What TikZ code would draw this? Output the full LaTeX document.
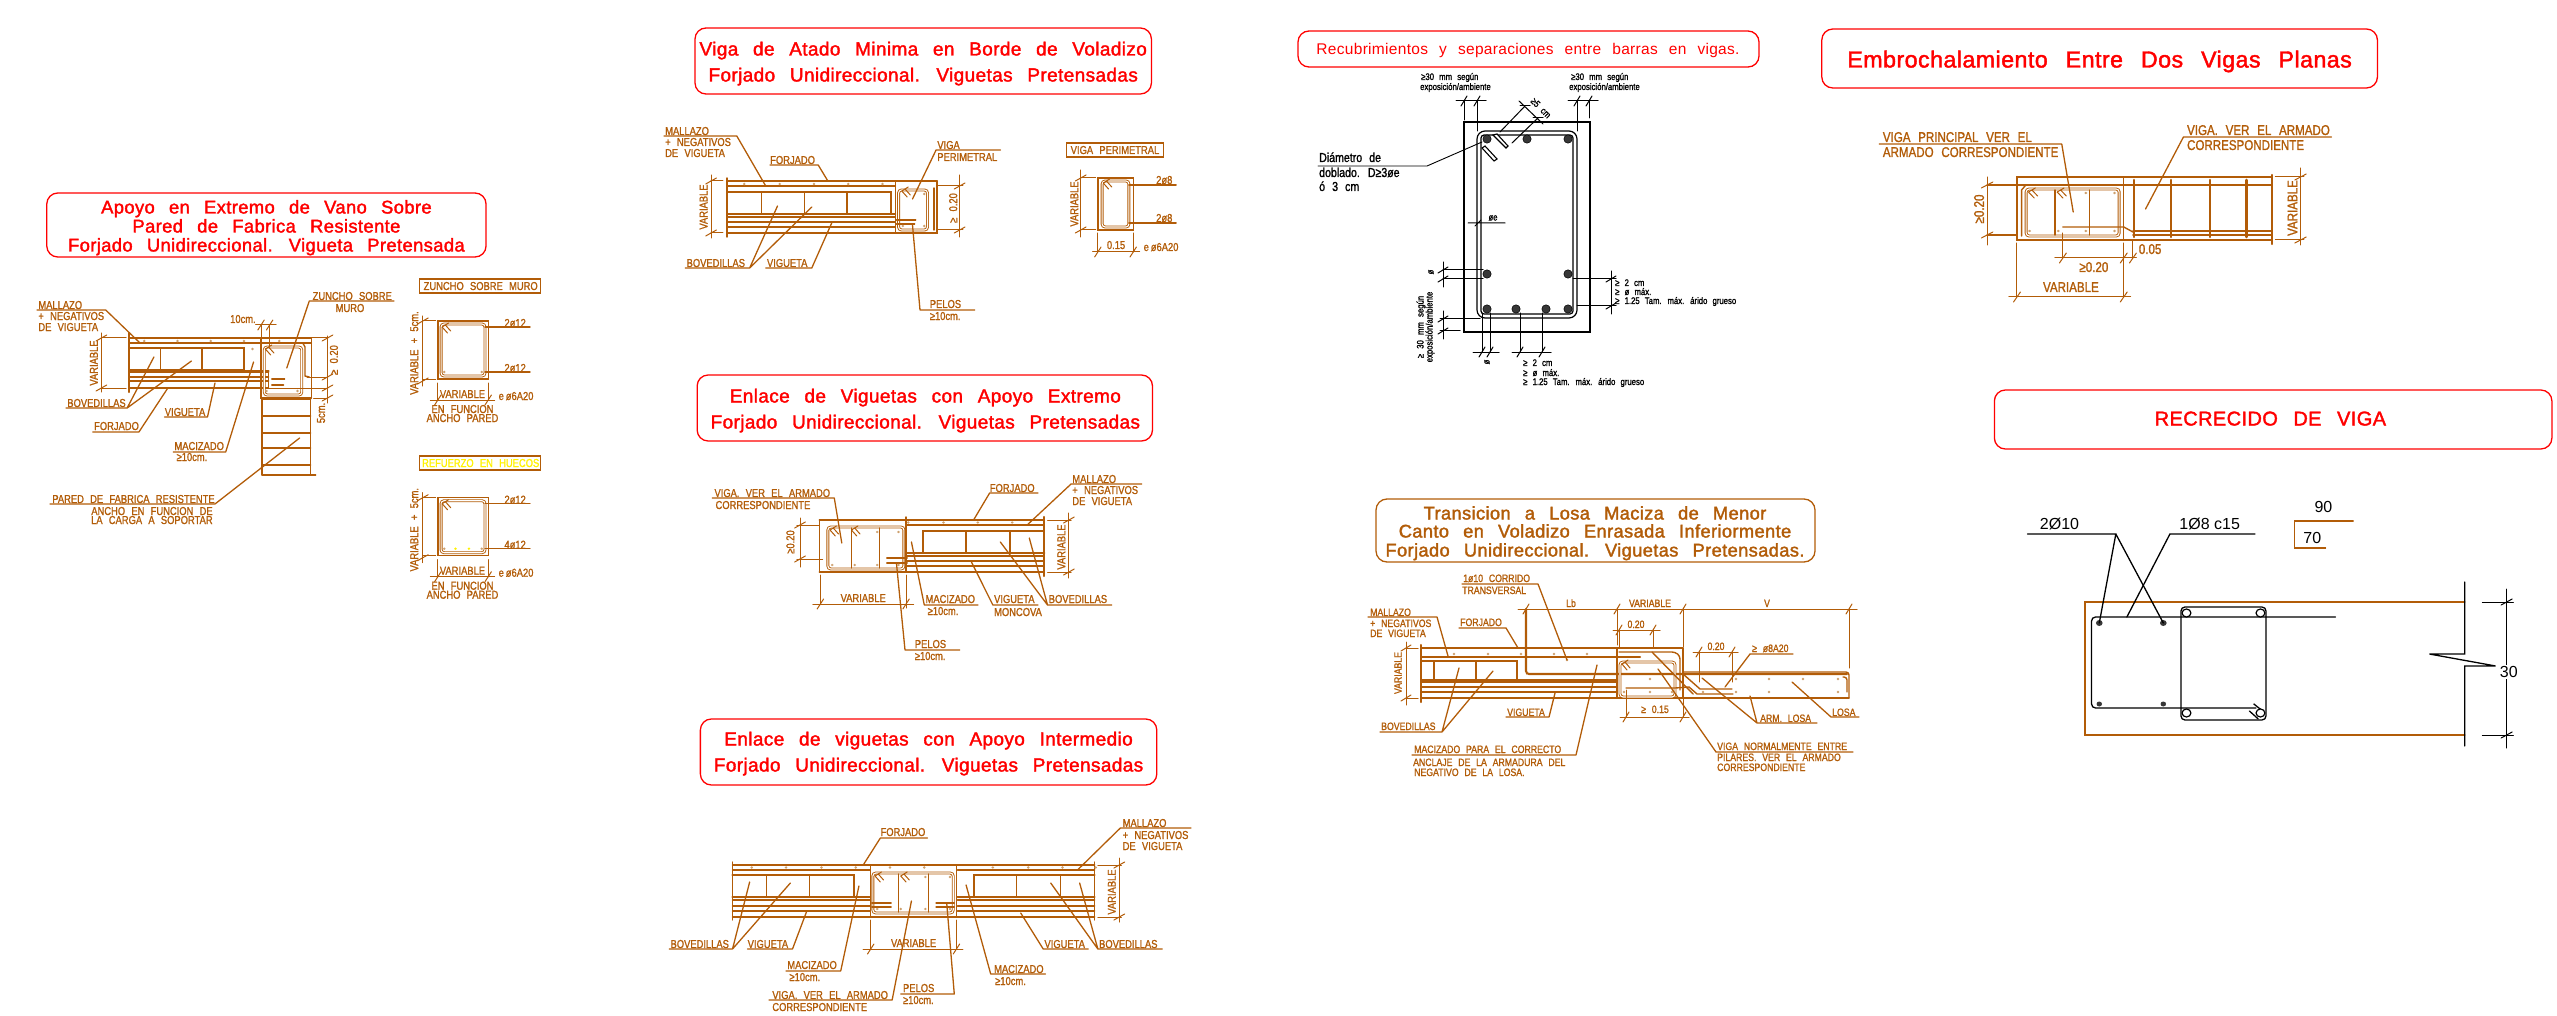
\documentclass[tikz,border=0pt]{standalone}
\usepackage{fontspec}
\setmainfont{Liberation Sans}
\newfontfamily\cadfont[FakeStretch=0.815,WordSpace=2.4,FakeBold=1.3]{Liberation Sans}
\newfontfamily\headfont[LetterSpace=2,WordSpace=2.6,FakeBold=1.8]{Liberation Sans}
\newfontfamily\thinfont[LetterSpace=2,WordSpace=2.4]{Liberation Sans}
\definecolor{cadorange}{RGB}{178,92,8}
\definecolor{bardot}{RGB}{205,160,110}
\definecolor{bardark}{RGB}{55,55,55}
\newcommand\cadsize{11.5}
\newcommand\titlesize{19}
\begin{document}
\begin{tikzpicture}[x=1pt, y=-1pt, color=cadorange, line cap=round]

\useasboundingbox (0, 0) rectangle (2557, 1016) ;

\tikzstyle{title box} = [draw=red, line width=1.3pt, rounded corners=11pt]
\tikzstyle{title text} = [font=\fontsize{\titlesize}{20}\selectfont\headfont, text=red, inner sep=0pt, anchor=base, yshift=-6.5pt]
\tikzstyle{rc line} = [line width=1.4pt]
\tikzstyle{rc heavy} = [line width=2.1pt]
\tikzstyle{dim line} = [line width=1pt]
\tikzstyle{leader line} = [line width=1.3pt, line join=round]
\tikzstyle{stirrup line} = [line width=.9pt, double=white, double distance=1.1pt, rounded corners=3pt]
\tikzstyle{cad label} = [font=\fontsize{\cadsize}{12}\selectfont\cadfont, inner sep=0pt, anchor=base west, yshift=-4pt]
\tikzstyle{cad mid} = [font=\fontsize{\cadsize}{12}\selectfont\cadfont, inner sep=0pt, anchor=base, yshift=-4pt]
\tikzstyle{cad rot} = [font=\fontsize{\cadsize}{12}\selectfont\cadfont, inner sep=0pt, rotate=90]
\tikzstyle{small label} = [font=\fontsize{9.5}{10}\selectfont\cadfont, inner sep=0pt, anchor=base west, yshift=-3pt]
\tikzstyle{small rot} = [font=\fontsize{9.5}{10}\selectfont\cadfont, inner sep=0pt, rotate=90]

\newcommand\hdim[4]{
	\draw [dim line] (#2, #1) -- (#3, #1) ;
	\foreach \xtick in {#4}
		\draw [dim line] (\xtick - 3, #1 + 5) -- (\xtick + 3, #1 - 5) ;
}
\newcommand\vdim[4]{
	\draw [dim line] (#1, #2) -- (#1, #3) ;
	\foreach \ytick in {#4}
		\draw [dim line] (#1 - 5, \ytick + 3) -- (#1 + 5, \ytick - 3) ;
}
\newcommand\slablines[3]{
	\foreach \yline in {#3}
		\draw [rc line] (#1, \yline) -- (#2, \yline) ;
}
\newcommand\bardots[2]{
	\foreach \xbar in {#1}
		\fill [bardot] (\xbar, #2) circle (1.3) ;
}
\newcommand\barhook[2]{
	\draw [dim line] (#1, #2) -- ++(5, 6) (#1 + 3, #2 - 2) -- ++(5, 6) (#1, #2) -- ++(6, -4) ;
}

% apoyo en extremo de vano

\begin{scope}[x=1.0714pt, xshift=-1.43pt]
\renewcommand\titlesize{18.4}

\draw [title box] (45, 193) rectangle (455, 257) ;
\node [title text] (apoyotitleone) at (250, 207) {Apoyo en Extremo de Vano Sobre} ;
\node [title text] (apoyotitletwo) at (250, 226) {Pared de Fabrica Resistente} ;
\node [title text] (apoyotitlethree) at (250, 245) {Forjado Unidireccional. Vigueta Pretensada} ;

\slablines{122}{292}{338, 343}
\slablines{122}{252}{372, 377, 381, 388}
\draw [rc heavy] (122, 333) -- (122, 392) ;
\draw [rc line] (122, 348) -- (229, 348) -- (229, 370) -- (122, 370) ;
\draw [rc heavy] (122, 371) -- (252, 371) ;
\draw [rc line] (151, 348) -- (151, 370) (190, 348) -- (190, 370) ;
\draw [rc line] (245, 338) -- (245, 398) -- (292, 398) (292, 338) -- (292, 398) ;
\draw [stirrup line] (248, 347) rectangle (283, 395) ;
\draw [rc line] (252, 371) -- (252, 388) (255, 379) -- (267, 379) (255, 385) -- (266, 385) ;
\draw [rc line] (270, 343) -- (284, 343) -- (286, 347) -- (286, 376) -- (290, 377) ;
\barhook{249}{349}
\bardots{136, 167, 198, 229, 262}{341}
\bardots{237}{349}
\bardots{250, 279}{391}

\draw [rc line] (246, 398) -- (246, 475) (291, 398) -- (291, 475) ;
\foreach \ywall in {399, 416, 433, 448, 465}
	\draw [rc heavy] (246, \ywall) -- (291, \ywall) ;
\draw [rc line] (246, 475) -- (296, 475) ;

\vdim{96}{333}{392}{338, 388}
\draw [dim line] (96, 338) -- (119, 338) (96, 388) -- (119, 388) ;
\node [cad rot] (apoyovariable) at (89, 363) {VARIABLE} ;
\vdim{307}{336}{403}{338, 377, 388, 398}
\draw [dim line] (292, 338) -- (307, 338) (288, 377) -- (307, 377) (252, 388) -- (307, 388) (294, 398) -- (307, 398) ;
\node [cad rot] (apoyocanto) at (313, 360) {≥ 0.20} ;
\node [cad rot] (apoyocinco) at (301, 413) {5cm.} ;
\hdim{325}{240}{259}{245, 253}
\draw [dim line] (245, 325) -- (245, 338) (253, 325) -- (253, 347) ;
\node [cad label] (apoyodiez) at (216, 319) {10cm.} ;

\draw [leader line] (36, 310) -- (100, 310) -- (132, 343) ;
\node [cad label] (apoyomallazo) at (37, 305) {MALLAZO} ;
\node [cad label] (apoyonegativos) at (37, 316) {+ NEGATIVOS} ;
\node [cad label] (apoyovigueta) at (37, 327) {DE VIGUETA} ;
\draw [leader line] (63, 408) -- (120, 408) -- (145, 357) (120, 408) -- (180, 361) ;
\node [cad label] (apoyobovedillas) at (64, 403) {BOVEDILLAS} ;
\draw [leader line] (88, 432) -- (131, 432) -- (158, 388) ;
\node [cad label] (apoyoforjado) at (89, 426) {FORJADO} ;
\draw [leader line] (155, 417) -- (195, 417) -- (202, 383) ;
\node [cad label] (apoyoviguetalabel) at (155, 412) {VIGUETA} ;
\draw [leader line] (163, 452) -- (212, 452) -- (238, 362) ;
\node [cad label] (apoyomacizado) at (164, 446) {MACIZADO} ;
\node [cad label] (apoyomindiez) at (166, 457) {≥10cm.} ;
\draw [leader line] (48, 504) -- (202, 504) -- (281, 438) ;
\node [cad label] (apoyopared) at (50, 499) {PARED DE FABRICA RESISTENTE} ;
\node [cad label, anchor=base east] (apoyoancho) at (200, 511) {ANCHO EN FUNCION DE} ;
\node [cad label, anchor=base east] (apoyocarga) at (200, 520) {LA CARGA A SOPORTAR} ;
\draw [leader line] (290, 301) -- (369, 301) (290, 301) -- (269, 368) ;
\node [cad label] (apoyozuncho) at (293, 296) {ZUNCHO SOBRE} ;
\node [cad mid] (apoyomuro) at (328, 308) {MURO} ;

% zuncho details

\newcommand\zunchodetail[4]{
	\begin{scope}[yshift=-#1pt]
	\draw [rc line] (410, 321) rectangle (457, 379) ;
	\draw [stirrup line] (413, 324) rectangle (454, 376) ;
	\barhook{414}{327}
	\draw [rc line] (454, 327) -- (496, 327) (454, 372) -- (496, 372) ;
	\node [cad label] (#2one) at (472, 323) {2ø12} ;
	\node [cad label] (#2two) at (472, 368) {#3} ;
	\vdim{396}{316}{386}{321, 381}
	\draw [dim line] (396, 321) -- (408, 321) (396, 379) -- (408, 379) ;
	\node [cad rot] (#2var) at (388, 353) {VARIABLE + 5cm.} ;
	\hdim{400}{403}{463}{410, 457}
	\draw [dim line] (410, 383) -- (410, 400) (457, 383) -- (457, 400) ;
	\node [cad mid] (#2width) at (433, 394) {VARIABLE} ;
	\node [cad mid] (#2fun) at (433, 409) {EN FUNCION} ;
	\node [cad mid] (#2pared) at (433, 418) {ANCHO PARED} ;
	\node [cad mid] (#2est) at (483, 396) {e\,ø6A20} ;
	#4
	\end{scope}
}

\draw [rc line] (393, 279) rectangle (506, 293) ;
\node [cad mid] (zunchotitle) at (450, 286) {ZUNCHO SOBRE MURO} ;
\zunchodetail{0}{zuncho}{2ø12}{\bardots{416, 451}{372}}

\draw [rc line] (393, 456) rectangle (506, 470) ;
\node [cad mid, text=yellow] (refuerzotitle) at (450, 463) {REFUERZO EN HUECOS} ;
\zunchodetail{176.7}{refuerzo}{4ø12}{
	\bardots{416, 451}{372}
	\fill [yellow] (426.5, 372) circle (1.3) (439, 372) circle (1.3) ;
}
\end{scope}

% viga de atado

\begin{scope}[x=1.0714pt, xshift=-46.4pt]
\draw [title box] (692, 28) rectangle (1118, 94) ;
\node [title text] (atadotitleone) at (905, 49) {Viga de Atado Minima en Borde de Voladizo} ;
\node [title text] (atadotitletwo) at (905, 75) {Forjado Unidireccional. Viguetas Pretensadas} ;

\slablines{722}{918}{181}
\slablines{722}{879}{186, 217, 222, 227, 233}
\draw [rc heavy] (722, 192) -- (875, 192) -- (875, 214) (722, 214) -- (879, 214) ;
\draw [rc line] (722, 178) -- (722, 237) ;
\draw [rc line] (754, 192) -- (754, 214) (794, 192) -- (794, 214) (834, 192) -- (834, 214) ;
\draw [rc line] (879, 181) -- (879, 233) -- (918, 233) -- (918, 181) ;
\draw [stirrup line] (882, 190) rectangle (909, 230) ;
\draw [rc line] (915, 188) -- (915, 230) (880, 220) -- (898, 220) (880, 224) -- (897, 224) ;
\barhook{885}{191}
\bardots{738, 771, 803, 835, 867}{184}
\bardots{886, 906}{226}
\bardots{906}{194}

\vdim{707}{175}{238}{181, 233}
\draw [dim line] (707, 181) -- (718, 181) (707, 233) -- (718, 233) ;
\node [cad rot] (atadovariable) at (700, 207) {VARIABLE} ;
\vdim{939}{175}{237}{186, 230}
\draw [dim line] (918, 186) -- (942, 186) (918, 230) -- (942, 230) ;
\node [cad rot] (atadocanto) at (933, 208) {≥ 0.20} ;

\draw [leader line] (663, 136) -- (731, 136) -- (758, 186) ;
\node [cad label] (atadomallazo) at (664, 131) {MALLAZO} ;
\node [cad label] (atadonegativos) at (664, 142) {+ NEGATIVOS} ;
\node [cad label] (atadovigueta) at (664, 153) {DE VIGUETA} ;
\draw [leader line] (762, 165) -- (807, 165) -- (816, 181) ;
\node [cad label] (atadoforjado) at (762, 160) {FORJADO} ;
\draw [leader line] (977, 150) -- (917, 150) -- (895, 199) ;
\node [cad label] (atadoviga) at (918, 145) {VIGA} ;
\node [cad label] (atadoperimetral) at (918, 157) {PERIMETRAL} ;
\draw [leader line] (683, 268) -- (743, 268) -- (769, 206) (743, 268) -- (801, 207) ;
\node [cad label] (atadobovedillas) at (684, 263) {BOVEDILLAS} ;
\draw [leader line] (758, 268) -- (801, 268) -- (820, 222) ;
\node [cad label] (atadoviguetalabel) at (759, 263) {VIGUETA} ;
\draw [leader line] (953, 310) -- (902, 310) -- (895, 225) ;
\node [cad label] (atadopelos) at (911, 304) {PELOS} ;
\node [cad label] (atadodiez) at (911, 316) {≥10cm.} ;

\draw [rc line] (1039, 143) rectangle (1129, 157) ;
\node [cad mid] (perimetraltitle) at (1084, 150) {VIGA PERIMETRAL} ;
\draw [rc line] (1068, 178) rectangle (1101, 230) ;
\draw [stirrup line] (1072, 181) rectangle (1097, 227) ;
\barhook{1073}{183}
\draw [rc line] (1097, 185) -- (1141, 185) (1097, 223) -- (1141, 223) ;
\node [cad mid] (perimetraltop) at (1130, 180) {2ø8} ;
\node [cad mid] (perimetralbottom) at (1130, 218) {2ø8} ;
\vdim{1052}{170}{237}{178, 230}
\draw [dim line] (1052, 178) -- (1066, 178) (1052, 230) -- (1066, 230) ;
\node [cad rot] (perimetralvariable) at (1046, 204) {VARIABLE} ;
\hdim{252}{1063}{1107}{1068, 1101}
\draw [dim line] (1068, 233) -- (1068, 252) (1101, 233) -- (1101, 252) ;
\node [cad mid] (perimetralwidth) at (1085, 245) {0.15} ;
\node [cad mid] (perimetralest) at (1127, 247) {e\,ø6A20} ;

% enlace con apoyo extremo

\draw [title box] (694, 375) rectangle (1119, 441) ;
\node [title text] (extremotitleone) at (907, 396) {Enlace de Viguetas con Apoyo Extremo} ;
\node [title text] (extremotitletwo) at (907, 422) {Forjado Unidireccional. Viguetas Pretensadas} ;

\slablines{808}{1018}{520, 572}
\slablines{889}{1018}{525, 561, 566}
\draw [rc heavy] (905, 553) -- (905, 531) -- (1017, 531) (889, 553) -- (1018, 553) ;
\draw [rc line] (889, 556) -- (1018, 556) (945, 531) -- (945, 553) (986, 531) -- (986, 553) ;
\draw [rc heavy] (1018, 517) -- (1018, 576) ;
\draw [rc line] (808, 520) -- (808, 572) (889, 517) -- (889, 572) ;
\draw [stirrup line] (816, 527) rectangle (887, 569) ;
\draw [rc line] (838, 528) -- (838, 568) (864, 528) -- (864, 568) ;
\draw [rc line] (871, 558) -- (890, 558) (871, 563) -- (890, 563) ;
\barhook{818}{530}
\barhook{838}{530}
\bardots{820, 841, 862, 882}{565}
\bardots{862, 882}{532}
\bardots{891, 924, 956, 988}{522.5}

\vdim{790}{518}{567}{525, 559}
\draw [dim line] (787, 525) -- (808, 525) (787, 559) -- (811, 559) ;
\node [cad rot] (extremocanto) at (781, 542) {≥0.20} ;
\hdim{604}{802}{896}{809, 889}
\draw [dim line] (809, 575) -- (809, 604) (889, 575) -- (889, 608) ;
\node [cad mid] (extremowidth) at (849, 598) {VARIABLE} ;
\vdim{1041}{513}{578}{520, 572}
\draw [dim line] (1021, 520) -- (1043, 520) (1021, 572) -- (1043, 572) ;
\node [cad rot] (extremovariable) at (1034, 547) {VARIABLE} ;

\draw [leader line] (708, 498) -- (822, 498) -- (829, 543) ;
\node [cad label] (extremoviga) at (710, 493) {VIGA. VER EL ARMADO} ;
\node [cad label] (extremocorr) at (711, 505) {CORRESPONDIENTE} ;
\draw [leader line] (1012, 493) -- (967, 493) -- (952, 520) ;
\node [cad label] (extremoforjado) at (967, 488) {FORJADO} ;
\draw [leader line] (1109, 484) -- (1043, 484) -- (1002, 525) ;
\node [cad label] (extremomallazo) at (1044, 479) {MALLAZO} ;
\node [cad label] (extremonegativos) at (1044, 490) {+ NEGATIVOS} ;
\node [cad label] (extremovigueta) at (1044, 501) {DE VIGUETA} ;
\draw [leader line] (956, 605) -- (906, 605) -- (894, 542) ;
\node [cad label] (extremomacizado) at (907, 599) {MACIZADO} ;
\node [cad label] (extremodiez) at (909, 611) {≥10cm.} ;
\draw [leader line] (1012, 605) -- (970, 605) -- (950, 562) ;
\node [cad label] (extremoviguetalabel) at (971, 599) {VIGUETA} ;
\node [cad label] (extremomoncova) at (971, 612) {MONCOVA} ;
\draw [leader line] (1081, 605) -- (1021, 605) -- (977, 542) (1021, 605) -- (1004, 538) ;
\node [cad label] (extremobovedillas) at (1022, 599) {BOVEDILLAS} ;
\draw [leader line] (939, 650) -- (888, 650) -- (880, 563) ;
\node [cad label] (extremopelos) at (897, 644) {PELOS} ;
\node [cad label] (extremopelosdiez) at (897, 656) {≥10cm.} ;

% enlace con apoyo intermedio

\draw [title box] (697, 719) rectangle (1123, 785) ;
\node [title text] (intermediotitleone) at (910, 739) {Enlace de viguetas con Apoyo Intermedio} ;
\node [title text] (intermediotitletwo) at (910, 765) {Forjado Unidireccional. Viguetas Pretensadas} ;

\slablines{727}{1065}{865, 917}
\slablines{727}{855}{870, 900, 906, 911}
\slablines{937}{1065}{870, 900, 906, 911}
\draw [rc heavy] (727, 875) -- (840, 875) -- (840, 897) (727, 897) -- (855, 897) ;
\draw [rc heavy] (952, 897) -- (952, 875) -- (1065, 875) (937, 897) -- (1065, 897) ;
\draw [rc line] (759, 875) -- (759, 897) (799, 875) -- (799, 897) (992, 875) -- (992, 897) (1033, 875) -- (1033, 897) ;
\draw [rc line] (727, 862) -- (727, 920) (1065, 862) -- (1065, 920) (856, 865) -- (856, 917) (936, 865) -- (936, 917) ;
\draw [stirrup line] (858, 873) rectangle (933, 913) ;
\draw [rc line] (882, 874) -- (882, 912) (910, 874) -- (910, 912) ;
\draw [rc line] (857, 903) -- (875, 903) (857, 907) -- (875, 907) (917, 903) -- (934, 903) (917, 907) -- (934, 907) ;
\barhook{860}{876}
\barhook{884}{876}
\bardots{862, 884, 907, 930}{909}
\bardots{907, 930}{877}
\bardots{745, 777, 810, 842, 874, 906, 970, 1003, 1035, 1066}{867.5}

\hdim{949}{849}{942}{856, 936}
\draw [dim line] (856, 920) -- (856, 949) (936, 920) -- (936, 949) ;
\node [cad mid] (intermediowidth) at (896, 943) {VARIABLE} ;
\vdim{1088}{858}{922}{865, 917}
\draw [dim line] (1068, 865) -- (1090, 865) (1068, 917) -- (1090, 917) ;
\node [cad rot] (intermediovariable) at (1081, 892) {VARIABLE} ;

\draw [leader line] (909, 838) -- (865, 838) -- (849, 865) ;
\node [cad label] (intermedioforjado) at (865, 832) {FORJADO} ;
\draw [leader line] (1155, 828) -- (1089, 828) -- (1049, 870) ;
\node [cad label] (intermediomallazo) at (1091, 823) {MALLAZO} ;
\node [cad label] (intermedionegativos) at (1091, 835) {+ NEGATIVOS} ;
\node [cad label] (intermediovigueta) at (1091, 846) {DE VIGUETA} ;
\draw [leader line] (668, 949) -- (727, 949) -- (743, 882) (727, 949) -- (781, 883) ;
\node [cad label] (intermediobovleft) at (669, 944) {BOVEDILLAS} ;
\draw [leader line] (741, 949) -- (783, 949) -- (796, 912) ;
\node [cad label] (intermediovigleft) at (741, 944) {VIGUETA} ;
\draw [leader line] (777, 971) -- (828, 971) -- (845, 886) ;
\node [cad label] (intermediomacleft) at (778, 965) {MACIZADO} ;
\node [cad label] (intermediodiezleft) at (780, 977) {≥10cm.} ;
\draw [leader line] (761, 1000) -- (876, 1000) -- (894, 901) ;
\node [cad label] (intermedioviga) at (764, 995) {VIGA. VER EL ARMADO} ;
\node [cad label] (intermediocorr) at (764, 1007) {CORRESPONDIENTE} ;
\draw [leader line] (884, 994) -- (934, 994) -- (927, 904) ;
\node [cad label] (intermediopelos) at (886, 988) {PELOS} ;
\node [cad label] (intermediopelosdiez) at (886, 1000) {≥10cm.} ;
\draw [leader line] (1019, 974) -- (968, 974) -- (945, 885) ;
\node [cad label] (intermediomacright) at (971, 969) {MACIZADO} ;
\node [cad label] (intermediodiezright) at (972, 981) {≥10cm.} ;
\draw [leader line] (1059, 949) -- (1017, 949) -- (996, 913) ;
\node [cad label] (intermediovigright) at (1018, 944) {VIGUETA} ;
\draw [leader line] (1128, 949) -- (1068, 949) -- (1024, 883) (1068, 949) -- (1051, 883) ;
\node [cad label] (intermediobovright) at (1069, 944) {BOVEDILLAS} ;
\end{scope}

% recubrimientos

\draw [title box] (1298, 31) rectangle (1759, 67) ;
\node [title text, font=\fontsize{15.5}{17}\selectfont\thinfont, yshift=-.5pt] (recubtitle) at (1528, 48) {Recubrimientos y separaciones entre barras en vigas.} ;

\begin{scope}[color=black]
\draw [line width=2.2pt] (1464, 122) rectangle (1590, 332) ;
\draw [line width=1.2pt, rounded corners=8pt] (1477, 131) rectangle (1577, 318) ;
\draw [line width=1.2pt, rounded corners=3pt] (1481, 135) rectangle (1573, 314) ;
\draw [line width=1.1pt, fill=white] (1493, 135) -- (1506, 148) -- (1508, 146) -- (1497, 134) -- cycle ;
\draw [line width=1.1pt, fill=white] (1482, 148) -- (1494, 161) -- (1497, 159) -- (1485, 146) -- cycle ;
\foreach \xbar/\ybar in {1487/139, 1527/139, 1568/139, 1487/274, 1568/274, 1487/309, 1516/309, 1546/309, 1568/309}
	\fill [bardark, draw=black, line width=.5pt] (\xbar, \ybar) circle (4.2) ;

\draw [line width=.9pt] (1318, 166) -- (1427, 166) -- (1482, 142) ;
\node [font=\fontsize{13}{14}\selectfont\cadfont, inner sep=0pt, anchor=base west, yshift=-4pt] (diametroone) at (1319, 158) {Diámetro de} ;
\node [font=\fontsize{13}{14}\selectfont\cadfont, inner sep=0pt, anchor=base west, yshift=-4pt] (diametrotwo) at (1319, 173) {doblado. D≥3øe} ;
\node [font=\fontsize{13}{14}\selectfont\cadfont, inner sep=0pt, anchor=base west, yshift=-4pt] (diametrothree) at (1319, 187) {ó 3 cm} ;

\hdim{101}{1456}{1486}{1464, 1477}
\draw [dim line] (1464, 101) -- (1464, 120) (1477, 101) -- (1477, 131) ;
\node [small label] (recubleftone) at (1421, 77) {≥30 mm según} ;
\node [small label] (recublefttwo) at (1420, 87) {exposición/ambiente} ;
\hdim{101}{1568}{1598}{1577, 1589}
\draw [dim line] (1577, 101) -- (1577, 131) (1589, 101) -- (1589, 118) ;
\node [small label] (recubrightone) at (1571, 77) {≥30 mm según} ;
\node [small label] (recubrighttwo) at (1569, 87) {exposición/ambiente} ;

\draw [dim line] (1500, 132) -- (1525, 106) (1512, 143) -- (1538, 118) (1519, 101) -- (1543, 124) ;
\draw [dim line] (1520, 106) -- (1530, 106) (1533, 118) -- (1543, 118) ;
\node [small label, rotate=-45, anchor=center, yshift=0pt] (recubcinco) at (1541, 105) {≥5 cm} ;

\draw [dim line] (1468, 223) -- (1505, 223) (1475, 226) -- (1481, 220) ;
\node [small label, anchor=center, yshift=0pt] (recubestribo) at (1493, 215) {øe} ;

\vdim{1443}{262}{287}{270, 279}
\draw [dim line] (1443, 270) -- (1483, 270) (1443, 279) -- (1483, 279) ;
\node [small rot] (recubbarone) at (1431, 272) {ø} ;
\vdim{1443}{311}{339}{319, 331}
\draw [dim line] (1440, 319) -- (1480, 319) (1440, 331) -- (1460, 331) ;
\node [small rot] (recubbottomone) at (1421, 327) {≥ 30 mm según} ;
\node [small rot] (recubbottomtwo) at (1430, 327) {exposición/ambiente} ;

\hdim{352}{1473}{1499}{1482, 1490}
\draw [dim line] (1482, 313) -- (1482, 352) (1490, 313) -- (1490, 352) ;
\node [small rot] (recubbartwo) at (1487, 362) {ø} ;
\hdim{352}{1512}{1551}{1520, 1542}
\draw [dim line] (1520, 313) -- (1520, 352) (1542, 313) -- (1542, 352) ;
\node [small label] (recubsepone) at (1523, 363) {≥ 2 cm} ;
\node [small label] (recubseptwo) at (1523, 373) {≥ ø máx.} ;
\node [small label] (recubsepthree) at (1523, 382) {≥ 1.25 Tam. máx. árido grueso} ;

\vdim{1611}{271}{314}{279, 306}
\draw [dim line] (1573, 279) -- (1616, 279) (1577, 306) -- (1616, 306) ;
\node [small label] (recubsideone) at (1615, 283) {≥ 2 cm} ;
\node [small label] (recubsidetwo) at (1615, 292) {≥ ø máx.} ;
\node [small label] (recubsidethree) at (1615, 301) {≥ 1.25 Tam. máx. árido grueso} ;
\end{scope}

% transicion a losa maciza

\begin{scope}
\renewcommand\cadsize{10.7}
\renewcommand\titlesize{18.3}

\draw [title box, draw=cadorange] (1376, 499) rectangle (1815, 562) ;
\node [title text, text=cadorange] (losatitleone) at (1595, 513) {Transicion a Losa Maciza de Menor} ;
\node [title text, text=cadorange] (losatitletwo) at (1595, 531) {Canto en Voladizo Enrasada Inferiormente} ;
\node [title text, text=cadorange] (losatitlethree) at (1595, 550) {Forjado Unidireccional. Viguetas Pretensadas.} ;

\slablines{1421}{1683}{648}
\slablines{1421}{1849}{698}
\slablines{1421}{1617}{682, 687, 692}
\draw [rc heavy] (1422, 657) -- (1640, 657) ;
\draw [rc heavy] (1422, 661) -- (1517, 661) -- (1517, 680) (1422, 680) -- (1617, 680) ;
\draw [rc line] (1434, 661) -- (1434, 680) (1476, 661) -- (1476, 680) ;
\draw [rc heavy] (1421, 645) -- (1421, 702) ;
\draw [rc heavy, rounded corners=3pt] (1526, 609) -- (1526, 674) -- (1847, 674) ;
\draw [rc line, rounded corners=3pt] (1683, 672) -- (1849, 672) -- (1849, 698) (1843, 677) -- (1847, 677) -- (1847, 692) ;
\draw [rc line] (1617, 648) -- (1617, 698) (1683, 648) -- (1683, 698) ;
\draw [stirrup line] (1620, 662) rectangle (1675, 697) ;
\draw [rc line, rounded corners=3pt] (1619, 652) -- (1675, 652) -- (1680, 656) -- (1680, 690) ;
\draw [rc line] (1626, 688) -- (1675, 688) -- (1689, 687) -- (1697, 694) -- (1733, 694) ;
\draw [rc line] (1652, 652) -- (1693, 694) ;
\draw [rc line] (1683, 674) -- (1700, 689) -- (1732, 689) ;
\barhook{1622}{664}
\bardots{1624, 1650, 1672, 1703, 1736, 1769, 1838}{692}
\bardots{1650, 1736, 1769, 1803, 1838}{679}
\bardots{1454, 1488, 1521, 1554, 1587}{654}
\bardots{1567}{660}

\hdim{609}{1518}{1857}{1526, 1617, 1683, 1849}
\draw [dim line] (1526, 609) -- (1526, 674) (1617, 609) -- (1617, 645) (1683, 609) -- (1683, 647) (1849, 609) -- (1849, 668) ;
\node [cad mid] (losalb) at (1571, 603) {Lb} ;
\node [cad mid] (losawidth) at (1650, 603) {VARIABLE} ;
\node [cad mid] (losav) at (1767, 603) {V} ;
\hdim{630}{1613}{1660}{1619, 1653}
\draw [dim line] (1619, 630) -- (1619, 648) (1653, 630) -- (1653, 648) ;
\node [cad mid] (losacantoone) at (1636, 624) {0.20} ;
\hdim{652}{1693}{1738}{1699, 1732}
\draw [dim line] (1699, 652) -- (1699, 682) (1732, 652) -- (1732, 682) ;
\node [cad mid] (losacantotwo) at (1716, 646) {0.20} ;
\hdim{717}{1620}{1689}{1626, 1683}
\draw [dim line] (1626, 690) -- (1626, 717) (1683, 698) -- (1683, 717) ;
\node [cad mid] (losamin) at (1655, 709) {≥ 0.15} ;
\vdim{1406}{642}{705}{648, 698}
\draw [dim line] (1406, 648) -- (1418, 648) (1406, 698) -- (1418, 698) ;
\node [cad rot] (losavariable) at (1398, 673) {VARIABLE} ;

\draw [leader line] (1368, 617) -- (1437, 617) -- (1448, 656) ;
\node [cad label] (losamallazo) at (1370, 612) {MALLAZO} ;
\node [cad label] (losanegativos) at (1370, 623) {+ NEGATIVOS} ;
\node [cad label] (losavigueta) at (1370, 633) {DE VIGUETA} ;
\draw [leader line] (1459, 628) -- (1506, 628) -- (1518, 648) ;
\node [cad label] (losaforjado) at (1460, 622) {FORJADO} ;
\draw [leader line] (1462, 584) -- (1538, 584) -- (1567, 660) ;
\node [cad label] (losacorrido) at (1463, 578) {1ø10 CORRIDO} ;
\node [cad label] (losatransversal) at (1462, 590) {TRANSVERSAL} ;
\draw [leader line] (1506, 717) -- (1549, 717) -- (1555, 693) ;
\node [cad label] (losaviguetalabel) at (1507, 712) {VIGUETA} ;
\draw [leader line] (1380, 732) -- (1442, 732) -- (1459, 668) (1442, 732) -- (1493, 671) ;
\node [cad label] (losabovedillas) at (1381, 726) {BOVEDILLAS} ;
\draw [leader line] (1412, 755) -- (1576, 755) -- (1597, 665) ;
\node [cad label] (losamacizado) at (1414, 749) {MACIZADO PARA EL CORRECTO} ;
\node [cad label] (losaanclaje) at (1413, 762) {ANCLAJE DE LA ARMADURA DEL} ;
\node [cad label] (losanegativo) at (1414, 772) {NEGATIVO DE LA LOSA.} ;
\draw [leader line] (1817, 723) -- (1757, 723) -- (1750, 696) (1757, 723) -- (1702, 678) ;
\node [cad label] (losaarm) at (1760, 718) {ARM. LOSA} ;
\draw [leader line] (1793, 654) -- (1750, 654) -- (1725, 687) ;
\node [cad label] (losaestribo) at (1752, 648) {≥ ø8A20} ;
\draw [leader line] (1859, 717) -- (1831, 717) -- (1792, 682) ;
\node [cad label] (losalosa) at (1832, 712) {LOSA} ;
\draw [leader line] (1853, 752) -- (1716, 752) -- (1658, 669) ;
\node [cad label] (losaviga) at (1717, 746) {VIGA NORMALMENTE ENTRE} ;
\node [cad label] (losapilares) at (1717, 757) {PILARES. VER EL ARMADO} ;
\node [cad label] (losacorr) at (1717, 767) {CORRESPONDIENTE} ;
\end{scope}

% embrochalamiento

\begin{scope}[x=1.148pt, xshift=-266.4pt]
\renewcommand\cadsize{14.2}
\renewcommand\titlesize{23.2}

\draw [title box] (1819, 29) rectangle (2303, 88) ;
\node [title text, yshift=-2pt] (embrotitle) at (2061, 59) {Embrochalamiento Entre Dos Vigas Planas} ;

\draw [rc line] (1989, 177) rectangle (2082, 240) ;
\draw [rc line] (2082, 177) -- (2211, 177) (2082, 240) -- (2211, 240) ;
\draw [rc heavy] (2211, 175) -- (2211, 244) ;
\draw [rc line] (1963, 185) -- (2211, 185) (2090, 231) -- (2211, 231) (2090, 235) -- (2211, 235) (1963, 235) -- (1989, 235) ;
\draw [rc line] (1993, 236) -- (1993, 190) -- (1996, 186) ;
\draw [stirrup line] (1997, 189) rectangle (2078, 236) ;
\draw [rc line] (2022, 190) -- (2022, 235) (2052, 190) -- (2052, 235) ;
\draw [rc line] (2029, 227) -- (2082, 227) -- (2090, 232) ;
\barhook{1999}{192}
\barhook{2024}{192}
\bardots{2000, 2025, 2049, 2074}{231}
\bardots{2049, 2074}{193}
\foreach \xstirrup in {2091, 2123, 2157, 2189}
	\draw [line width=2.6pt] (\xstirrup, 180) -- (\xstirrup, 237) ;

\vdim{1963}{177}{245}{185, 235}
\node [cad rot] (embrocanto) at (1956, 209) {≥0.20} ;
\vdim{2236}{168}{245}{177, 240}
\draw [dim line] (2214, 177) -- (2239, 177) (2214, 240) -- (2239, 240) ;
\node [cad rot] (embrovariable) at (2229, 208) {VARIABLE} ;
\hdim{258}{2022}{2093}{2029, 2082, 2090}
\draw [dim line] (2029, 233) -- (2029, 258) (2090, 240) -- (2090, 258) ;
\node [cad label] (embrogap) at (2095, 250) {0.05} ;
\node [cad mid] (embromin) at (2056, 268) {≥0.20} ;
\hdim{297}{1982}{2088}{1989, 2082}
\draw [dim line] (1989, 243) -- (1989, 297) (2082, 243) -- (2082, 297) ;
\node [cad mid] (embrowidth) at (2036, 288) {VARIABLE} ;

\draw [leader line] (1869, 144) -- (2028, 144) -- (2038, 212) ;
\node [cad label] (embroprincipal) at (1872, 138) {VIGA PRINCIPAL VER EL} ;
\node [cad label] (embroarmado) at (1872, 153) {ARMADO CORRESPONDIENTE} ;
\draw [leader line] (2263, 137) -- (2134, 137) -- (2101, 209) ;
\node [cad label] (embroviga) at (2137, 131) {VIGA. VER EL ARMADO} ;
\node [cad label] (embrocorr) at (2137, 146) {CORRESPONDIENTE} ;
\end{scope}

% recrecido de viga

\begin{scope}[x=1.104pt, xshift=-205.9pt]
\renewcommand\titlesize{20}

\draw [title box] (1993, 390) rectangle (2498, 449) ;
\node [title text, yshift=0pt] (recrecidotitle) at (2243, 419) {RECRECIDO DE VIGA} ;

\tikzstyle{plain label} = [font=\fontsize{16}{18}\selectfont, text=black, inner sep=0pt]

\draw [line width=1.6pt] (2419, 602) -- (2075, 602) -- (2075, 735) -- (2419, 735) ;
\draw [line width=1.2pt] (2318, 521) -- (2265, 521) -- (2265, 548) -- (2293, 548) ;
\node [plain label] (recrecidoninety) at (2291, 507) {90} ;
\node [plain label] (recrecidoseventy) at (2281, 538) {70} ;

\begin{scope}[color=black]
\draw [line width=1.3pt, rounded corners=4pt] (2302, 617) -- (2081, 617) -- (2081, 708) -- (2230, 708) ;
\draw [line width=1.3pt, rounded corners=4pt] (2162, 607) rectangle (2239, 720) ;
\draw [line width=1.3pt] (2228, 704) -- (2236, 711) (2224, 711) -- (2232, 719) ;
\foreach \xbar/\ybar in {2167/613, 2234/613, 2167/713, 2234/713}
	\draw [line width=1.2pt, fill=white] (\xbar, \ybar) circle (4) ;
\foreach \xbar in {2088, 2146} {
	\fill [bardark] (\xbar, 623) circle (3) ;
	\fill [bardark] (\xbar, 704) circle (2.5) ;
}
\draw [line width=1.3pt] (2023, 534) -- (2103, 534) -- (2088, 623) (2103, 534) -- (2146, 623) ;
\draw [line width=1.3pt] (2229, 534) -- (2152, 534) -- (2113, 617) ;
\node [plain label] (recrecidotop) at (2052, 524) {2Ø10} ;
\node [plain label] (recrecidostirrup) at (2188, 524) {1Ø8 c15} ;

\draw [line width=1.3pt] (2419, 582) -- (2419, 654) -- (2387, 654) -- (2447, 666) -- (2419, 666) -- (2419, 746) ;
\vdim{2457}{589}{748}{602, 735}
\draw [dim line] (2435, 602) -- (2463, 602) (2435, 735) -- (2463, 735) ;
\node [plain label, fill=white, inner sep=1pt] (recrecidothirty) at (2459, 672) {30} ;
\end{scope}
\end{scope}

\end{tikzpicture}
\end{document}
